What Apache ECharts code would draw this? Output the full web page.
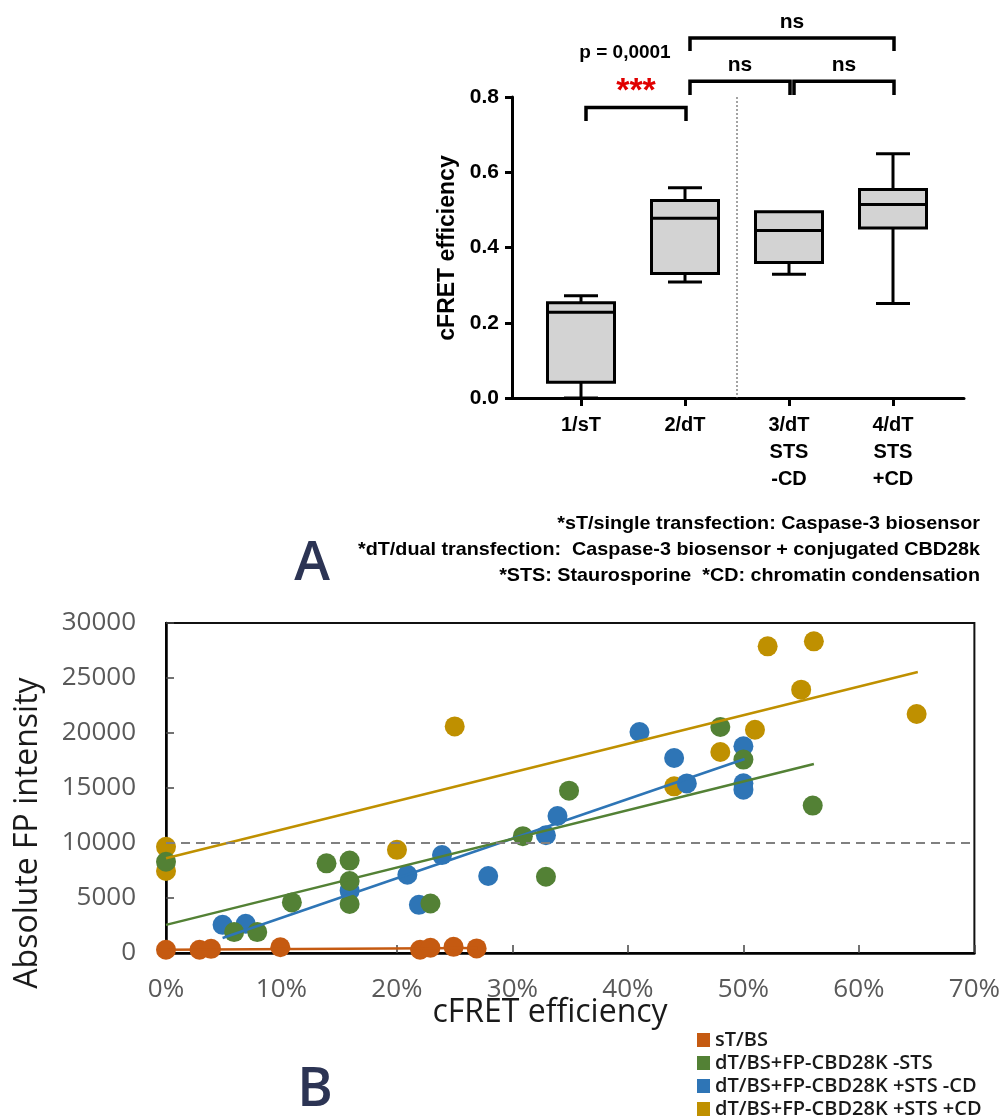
<!DOCTYPE html>
<html>
<head>
<meta charset="utf-8">
<title>cFRET efficiency</title>
<script src="https://cdn.jsdelivr.net/npm/echarts@6/dist/echarts.min.js"></script>
<style>
  html, body { margin: 0; padding: 0; background: #fff; }
  #chart { width: 1003px; height: 1117px; }
</style>
</head>
<body>
<div id="chart"></div>
<script>
// ---- panel A: box plot of cFRET efficiency ----
const groups = ["1/sT", "2/dT", "3/dT\nSTS\n-CD", "4/dT\nSTS\n+CD"];
const boxMin = [0.0, 0.308, 0.329, 0.251];
const boxQ1 = [0.042, 0.331, 0.36, 0.452];
const boxMedian = [0.228, 0.478, 0.445, 0.514];
const boxQ3 = [0.253, 0.525, 0.495, 0.554];
const boxMax = [0.272, 0.559, 0.495, 0.649];

// significance brackets (group index from / to, bar level, leg end)
const bracketFrom = [0, 1, 2, 1];
const bracketTo = [1, 2, 3, 3];
const bracketTop = [0.772, 0.842, 0.842, 0.957];
const bracketLeg = [0.736, 0.805, 0.805, 0.922];
const bracketLabel = ["***", "ns", "ns", "ns"];
const pValueText = "p = 0,0001";
const separatorBetween = [1, 2];

const footnotes = [
  "*sT/single transfection: Caspase-3 biosensor",
  "*dT/dual transfection:  Caspase-3 biosensor + conjugated CBD28k",
  "*STS: Staurosporine  *CD: chromatin condensation",
];

// ---- panel B: absolute FP intensity vs cFRET efficiency (%) ----
const sTx = [0, 2.9, 3.9, 9.9, 22.0, 22.9, 24.9, 26.9];
const sTy = [300, 300, 380, 520, 300, 480, 560, 420];
const dTx = [0, 5.9, 7.9, 10.9, 13.9, 15.9, 15.9, 15.9, 22.9, 30.9, 32.9, 34.9, 48.0, 50.0, 56.0];
const dTy = [8300, 1900, 1900, 4600, 8150, 8400, 6550, 4450, 4500, 10620, 6930, 14760, 20550, 17580, 13400];
const stsX = [4.9, 6.9, 15.9, 20.9, 21.9, 23.9, 27.9, 32.9, 33.9, 41.0, 44.0, 45.1, 50.0, 50.0, 50.0];
const stsY = [2560, 2650, 5670, 7110, 4380, 8900, 7000, 10700, 12450, 20090, 17730, 15420, 18800, 15430, 14850];
const cdX = [0, 0, 20.0, 25.0, 44.0, 48.0, 51.0, 52.1, 55.0, 56.1, 65.0];
const cdY = [9650, 7450, 9380, 20600, 15150, 18270, 20300, 27880, 23940, 28330, 21730];

// trend lines as drawn in the figure: [start, end]
const sTTrendX = [0, 27.0], sTTrendY = [290, 460];
const dTTrendX = [0, 56.1], dTTrendY = [2560, 17180];
const stsTrendX = [4.9, 50.1], stsTrendY = [1360, 17640];
const cdTrendX = [0, 65.1], cdTrendY = [8620, 25550];
const thresholdY = 10000;

const seriesNames = ["sT/BS", "dT/BS+FP-CBD28K -STS", "dT/BS+FP-CBD28K +STS -CD", "dT/BS+FP-CBD28K +STS +CD"];
const colors = ["#c55a11", "#538135", "#2e75b6", "#bf9000"];

const zip = (xs, ys) => xs.map((x, i) => [x, ys[i]]);

// the footnote is set in a narrow face; squeeze Liberation Sans Bold to the same width
const measure = document.createElement("canvas").getContext("2d");
measure.font = 'bold 19px "Liberation Sans"';
const footScale = 622 / measure.measureText(footnotes[1]).width;

const chart = echarts.init(document.getElementById("chart"));

const boldArial = { fontFamily: "Liberation Sans", fontWeight: "bold", color: "#000" };

function scatter(name, color, xs, ys) {
  return {
    name: name,
    type: "scatter",
    xAxisIndex: 2,
    yAxisIndex: 2,
    symbolSize: 20,
    itemStyle: { color: color, opacity: 1 },
    data: zip(xs, ys),
    z: 2,
  };
}

function trend(color, xs, ys) {
  return {
    type: "line",
    xAxisIndex: 2,
    yAxisIndex: 2,
    showSymbol: false,
    silent: true,
    lineStyle: { color: color, width: 2.5 },
    data: zip(xs, ys),
    z: 3,
  };
}

// one legend block per row so the column never wraps at the bottom edge
const legends = seriesNames.map((name, i) => ({
  data: [name],
  left: 697,
  top: 1030 + i * 23,
  padding: 0,
  icon: "rect",
  itemWidth: 13,
  itemHeight: 14,
  itemGap: 0,
  textStyle: { fontFamily: "Open Sans", fontWeight: 600, fontSize: 20, color: "#1a1a1a" },
  selectedMode: false,
}));

const option = {
  animation: false,
  backgroundColor: "#fff",
  grid: [
    { left: 512, top: 97, width: 452, height: 301 },
    { left: 529, top: 97, width: 416, height: 301 },
    {
      left: 166, top: 623, width: 809, height: 330,
      show: true, borderColor: "#111", borderWidth: 2, backgroundColor: "transparent",
    },
  ],
  xAxis: [
    {
      gridIndex: 0, type: "value", min: 0, max: 1,
      axisLine: { lineStyle: { color: "#000", width: 3 } },
      axisTick: { show: false }, axisLabel: { show: false }, splitLine: { show: false },
    },
    {
      gridIndex: 1, type: "category", data: groups,
      axisLine: { show: false },
      axisTick: { show: true, alignWithLabel: true, length: 8, lineStyle: { color: "#000", width: 3 } },
      axisLabel: { ...boldArial, fontSize: 20, lineHeight: 27, margin: 14 },
    },
    {
      gridIndex: 2, type: "value", min: 0, max: 70, interval: 10,
      axisLine: { lineStyle: { color: "#000", width: 2.5 } },
      axisTick: { inside: true, length: 8, lineStyle: { color: "#444", width: 1.5 } },
      axisLabel: { formatter: "{value}%", fontFamily: "Open Sans", fontSize: 26, color: "#595959", margin: 24 },
      splitLine: { show: false },
    },
  ],
  yAxis: [
    {
      gridIndex: 0, type: "value", min: 0, max: 0.8, interval: 0.2,
      axisLine: { show: true, lineStyle: { color: "#000", width: 3 } },
      axisTick: { show: true, length: 7, lineStyle: { color: "#000", width: 3 } },
      axisLabel: { ...boldArial, fontSize: 21, margin: 13, formatter: (v) => v.toFixed(1) },
      splitLine: { show: false },
    },
    { gridIndex: 1, type: "value", min: 0, max: 0.8, show: false },
    {
      gridIndex: 2, type: "value", min: 0, max: 30000, interval: 5000,
      axisLine: { show: true, lineStyle: { color: "#000", width: 2.5 } },
      axisTick: { show: true, inside: true, length: 8, lineStyle: { color: "#444", width: 1.5 } },
      axisLabel: { fontFamily: "Open Sans", fontSize: 26, color: "#595959", margin: 30, formatter: (v) => String(v) },
      splitLine: { show: false },
    },
  ],
  legend: legends,
  series: [
    // box plot
    {
      type: "custom",
      xAxisIndex: 1,
      yAxisIndex: 1,
      encode: { x: 0, y: [1, 2, 3, 4, 5] },
      data: groups.map((g, i) => [i, boxMin[i], boxQ1[i], boxMedian[i], boxQ3[i], boxMax[i]]),
      renderItem: (params, api) => {
        const i = api.value(0);
        const pMin = api.coord([i, api.value(1)]);
        const pQ1 = api.coord([i, api.value(2)]);
        const pMed = api.coord([i, api.value(3)]);
        const pQ3 = api.coord([i, api.value(4)]);
        const pMax = api.coord([i, api.value(5)]);
        const x = pMed[0];
        const half = 33.5, cap = 17;
        const ls = { stroke: "#000", lineWidth: 3 };
        const children = [];
        if (pMax[1] < pQ3[1] - 1) {
          children.push({ type: "line", shape: { x1: x, y1: pQ3[1], x2: x, y2: pMax[1] }, style: ls });
          children.push({ type: "line", shape: { x1: x - cap, y1: pMax[1], x2: x + cap, y2: pMax[1] }, style: ls });
        }
        if (pMin[1] > pQ1[1] + 1) {
          children.push({ type: "line", shape: { x1: x, y1: pQ1[1], x2: x, y2: pMin[1] }, style: ls });
          children.push({ type: "line", shape: { x1: x - cap, y1: pMin[1], x2: x + cap, y2: pMin[1] }, style: ls });
        }
        children.push({
          type: "rect",
          shape: { x: x - half, y: pQ3[1], width: half * 2, height: pQ1[1] - pQ3[1] },
          style: { fill: "#d3d3d3", stroke: "#000", lineWidth: 3 },
        });
        children.push({ type: "line", shape: { x1: x - half, y1: pMed[1], x2: x + half, y2: pMed[1] }, style: ls });
        return { type: "group", children: children };
      },
      z: 3,
    },
    // dotted separator between 2/dT and 3/dT
    {
      type: "custom",
      xAxisIndex: 1,
      yAxisIndex: 1,
      data: [separatorBetween],
      renderItem: (params, api) => {
        const a = api.coord([api.value(0), 0]);
        const b = api.coord([api.value(1), 0.8]);
        const x = (a[0] + b[0]) / 2;
        return {
          type: "line",
          shape: { x1: x, y1: b[1], x2: x, y2: a[1] },
          style: { stroke: "#666", lineWidth: 1.2, lineDash: [2, 2] },
        };
      },
      z: 1,
    },
    // significance brackets
    {
      type: "custom",
      xAxisIndex: 1,
      yAxisIndex: 1,
      data: bracketFrom.map((f, i) => [f, bracketTo[i], bracketTop[i], bracketLeg[i], i]),
      renderItem: (params, api) => {
        const k = api.value(4);
        const l = api.coord([api.value(0), api.value(2)]);
        const r = api.coord([api.value(1), api.value(2)]);
        const leg = api.coord([api.value(0), api.value(3)])[1];
        const x1 = l[0] + 5, x2 = r[0] + 1, y = l[1];
        const ls = { stroke: "#000", lineWidth: 3.5, fill: null };
        const mid = (x1 + x2) / 2;
        const children = [
          { type: "polyline", shape: { points: [[x1, leg], [x1, y], [x2, y], [x2, leg]] }, style: ls },
        ];
        const label = bracketLabel[k];
        if (label === "***") {
          children.push({
            type: "text", x: mid, y: y - 16,
            style: { text: label, fill: "#e00000", fontFamily: "Liberation Sans", fontWeight: "bold", fontSize: 34, align: "center", verticalAlign: "middle" },
          });
          children.push({
            type: "text", x: mid - 11, y: y - 55,
            style: { text: pValueText, fill: "#000", fontFamily: "Liberation Sans", fontWeight: "bold", fontSize: 19, align: "center", verticalAlign: "middle" },
          });
        } else {
          children.push({
            type: "text", x: mid, y: y - 16,
            style: { text: label, fill: "#000", fontFamily: "Liberation Sans", fontWeight: "bold", fontSize: 21, align: "center", verticalAlign: "middle" },
          });
        }
        return { type: "group", children: children };
      },
      z: 4,
    },
    // panel B scatter points (draw order gold, blue, green, orange)
    scatter(seriesNames[3], colors[3], cdX, cdY),
    scatter(seriesNames[2], colors[2], stsX, stsY),
    scatter(seriesNames[1], colors[1], dTx, dTy),
    scatter(seriesNames[0], colors[0], sTx, sTy),
    trend(colors[3], cdTrendX, cdTrendY),
    trend(colors[2], stsTrendX, stsTrendY),
    trend(colors[1], dTTrendX, dTTrendY),
    {
      ...trend(colors[0], sTTrendX, sTTrendY),
      markLine: {
        silent: true,
        symbol: "none",
        label: { show: false },
        lineStyle: { color: "#808080", type: [9, 6], width: 2 },
        data: [{ yAxis: thresholdY }],
      },
    },
  ],
  graphic: [
    {
      type: "text", x: 448, y: 248, rotation: Math.PI / 2,
      style: { text: "cFRET efficiency", fontFamily: "Liberation Sans", fontWeight: "bold", fontSize: 23, fill: "#000", align: "center", verticalAlign: "middle" },
    },
    {
      type: "text", x: 980, y: 511, scaleX: footScale,
      style: {
        text: footnotes.join("\n"),
        fontFamily: "Liberation Sans", fontWeight: "bold", fontSize: 19, lineHeight: 26, fill: "#000", align: "right", verticalAlign: "top",
      },
    },
    {
      type: "text", x: 312, y: 565,
      style: { text: "A", fontFamily: "Open Sans", fontWeight: 600, fontSize: 54, fill: "#2c3454", align: "center", verticalAlign: "middle" },
    },
    {
      type: "text", x: 315, y: 1091,
      style: { text: "B", fontFamily: "Open Sans", fontWeight: 600, fontSize: 54, fill: "#2c3454", align: "center", verticalAlign: "middle" },
    },
    {
      type: "text", x: 28, y: 833, rotation: Math.PI / 2,
      style: { text: "Absolute FP intensity", fontFamily: "Open Sans", fontSize: 32, fill: "#1a1a1a", align: "center", verticalAlign: "middle" },
    },
    {
      type: "text", x: 550, y: 1013,
      style: { text: "cFRET efficiency", fontFamily: "Open Sans", fontSize: 32, fill: "#1a1a1a", align: "center", verticalAlign: "middle" },
    },
  ],
};

chart.setOption(option);
</script>
</body>
</html>
